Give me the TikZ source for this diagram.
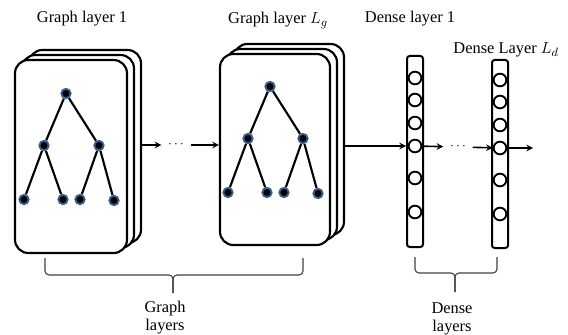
\documentclass[tikz,border=0pt]{standalone}
\usepackage{fontspec}
\setmainfont{Liberation Serif}
\begin{document}
\begin{tikzpicture}
[x=0.75pt,y=-0.75pt,
  carddecorate/.style={shape=rectangle,rounded corners=10pt,draw,fill=white,line width=1.6pt},%
  treedecorate/.style={shape=circle,inner sep=0pt,minimum size=7pt,fill=black,draw={rgb,255:red,58;green,92;blue,140},line width=1.4pt},%
  edgedecorate/.style={line width=1.6pt},%
  columndecorate/.style={shape=rectangle,rounded corners=2pt,draw,line width=1.5pt,minimum width=12pt},%
  unitdecorate/.style={shape=circle,inner sep=0pt,minimum size=9.5pt,draw,fill=white,line width=1.4pt},%
  dotsdecorate/.style={inner ysep=0pt,inner xsep=5pt},%
  arrowdecorate/.style={->,>=stealth,line width=1.2pt},%
  bracedecorate/.style={line width=0.8pt,black!75,rounded corners=3pt},%
  labeldecorate/.style={font=\fontsize{12.3}{13.5}\selectfont,inner sep=0pt}]
\useasboundingbox (0,0) rectangle (568,335);
%% stacked graph cards
\foreach \cardname/\x/\y/\w/\h in {ga/71/156.5/84pt/144.75pt, gb/275/149.5/82.5pt/143.25pt} {
  \node (\cardname3) at (\x+14,\y-10) [carddecorate,minimum width=\w,minimum height=\h] {};
  \node (\cardname2) at (\x+7,\y-5) [carddecorate,minimum width=\w,minimum height=\h] {};
  \node (\cardname1) at (\x,\y) [carddecorate,minimum width=\w,minimum height=\h] {};
}
%% tree vertices
\foreach \cardname in {ga,gb} {
  \foreach \nodename/\dx/\dy in {r/-5/-63, p/-27/-11, q/28/-11,
    a/-47/43, b/-8/43, c/9/43, d/43/44} {
    \node (\cardname\nodename) at ([shift={(\dx,\dy)}]\cardname1.center) [treedecorate] {};
  }
}
%% tree edges
\foreach \cardname in {ga,gb} {
  \path
  \foreach \startnode/\endnode in {r/p, r/q, p/a, p/b, q/c, q/d} {
    (\cardname\startnode) edge[edgedecorate] (\cardname\endnode)
  };
}
%% dense columns and units
\foreach \colname/\x/\y/\h/\off in {da/415/151.5/143.25pt/0, db/500/154/141pt/2} {
  \node (\colname) at (\x,\y) [columndecorate,minimum height=\h] {};
  \foreach \i/\yy in {1/78, 2/100, 3/123, 4/146, 5/178, 6/212} {
    \node (\colname\i) at (\x,\yy+\off) [unitdecorate] {};
  }
}
%% arrows between layers
\node (dg) at (176,145) [dotsdecorate] {$\cdots$};
\node (dd) at (458,147) [dotsdecorate] {$\cdots$};
\coordinate (out) at (533,148);
\draw[arrowdecorate] (ga3.east |- dg) -- (dg);
\draw[arrowdecorate] (dg) -- (gb1.west |- dg);
\draw[arrowdecorate] (gb3.east |- da4) -- (da.west |- da4);
\draw[arrowdecorate] (da4) -- (dd);
\draw[arrowdecorate] (dd) -- (db4);
\draw[arrowdecorate] (db4) -- (out);
%% braces
\coordinate (gl) at (45,258);
\coordinate (gr) at (303,258);
\coordinate (gm) at (173,275);
\coordinate (gt) at (173,293);
\coordinate (dl) at (415,257);
\coordinate (dr) at (497,257);
\coordinate (dm) at (455,273);
\coordinate (dt) at (455,292);
\draw[bracedecorate] (gl) |- (gm) -- (gt);
\draw[bracedecorate] (gr) |- (gm) -- (gt);
\draw[bracedecorate] (dl) |- (dm) -- (dt);
\draw[bracedecorate] (dr) |- (dm) -- (dt);
%% labels
\node (tga) at (82,23) [labeldecorate,anchor=base] {Graph layer 1};
\node (tgb) at (278,24) [labeldecorate,anchor=base] {Graph layer $L_g$};
\node (tda) at (410,23) [labeldecorate,anchor=base] {Dense layer 1};
\node (tdb) at (506,54) [labeldecorate,anchor=base] {Dense Layer $L_d$};
\node (bg) at (165,318) [labeldecorate,align=center] {Graph\\layers};
\node (bd) at (452,319) [labeldecorate,align=center] {Dense\\layers};
\end{tikzpicture}
\end{document}
